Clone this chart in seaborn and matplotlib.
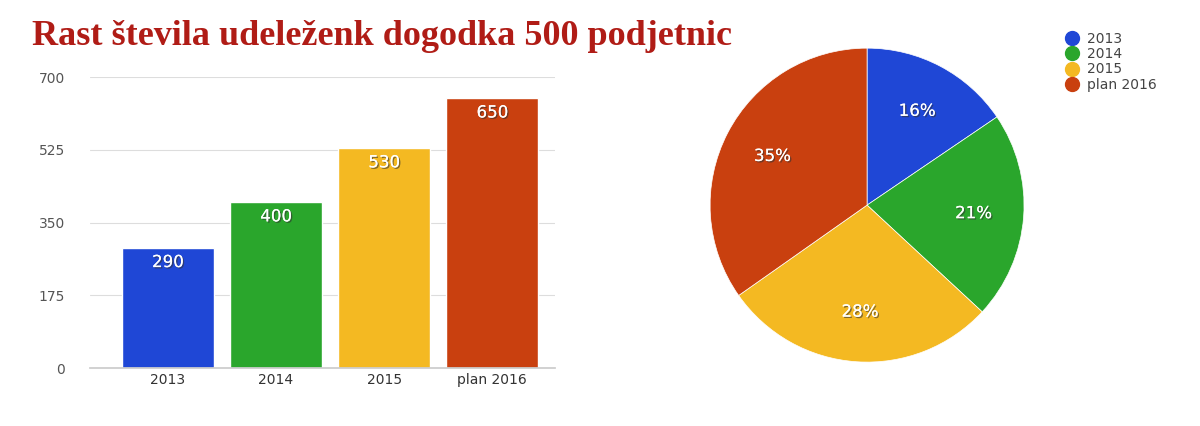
import matplotlib
matplotlib.use("Agg")
import matplotlib.pyplot as plt
import matplotlib.patheffects as pe
from matplotlib.lines import Line2D
import seaborn as sns
import pandas as pd

categories = ["2013", "2014", "2015", "plan 2016"]
values = [290, 400, 530, 650]
colors = ["#1f47d6", "#2aa62c", "#f4b922", "#c9400f"]
yticks = [0, 175, 350, 525, 700]

sns.set_theme(style="white")
plt.rcParams['font.family'] = ['DejaVu Sans']

fig = plt.figure(figsize=(12, 4.26), dpi=100)
fig.patch.set_facecolor("white")

ax = fig.add_axes([0.075, 0.136, 0.3875, 0.683])
df = pd.DataFrame({"cat": categories, "val": values})
sns.barplot(data=df, x="cat", y="val", hue="cat", palette=colors, ax=ax,
            width=0.85, legend=False, saturation=1)
ax.set_ylim(0, 700)
ax.set_xlim(-0.72, 3.58)
ax.set_yticks(yticks)
ax.set_yticklabels([str(t) for t in yticks], color="#555555", fontsize=10)
ax.tick_params(axis="x", colors="#333333", labelsize=10, length=0)
ax.tick_params(axis="y", length=0, pad=18)
ax.grid(axis="y", color="#dddddd", linewidth=0.8)
ax.set_axisbelow(True)
for s in ["top", "right", "left"]:
    ax.spines[s].set_visible(False)
ax.spines["bottom"].set_color("#cccccc")
ax.set_xlabel("")
ax.set_ylabel("")
shadow = [pe.withSimplePatchShadow(offset=(1, -1), shadow_rgbFace="#333333", alpha=0.6), pe.Normal()]
for i, v in enumerate(values):
    ax.text(i, v - 35, str(v), ha="center", va="center", color="white",
            fontsize=12, path_effects=shadow)

fig.text(0.027, 0.915, "Rast števila udeleženk dogodka 500 podjetnic",
         fontsize=26, fontweight="bold", color="#b01c16",
         family=["Liberation Serif"], va="center")

pax = fig.add_axes([0.5917, 0.150, 0.2617, 0.737])
wedges, texts, autotexts = pax.pie(values, colors=colors, startangle=90, counterclock=False,
        autopct=lambda p: f"{p:.0f}%", pctdistance=0.68,
        wedgeprops=dict(edgecolor="white", linewidth=0.5),
        textprops=dict(color="white", fontsize=12))
for t in autotexts:
    t.set_path_effects(shadow)
pax.set_xlim(-1, 1)
pax.set_ylim(-1, 1)
pax.set_aspect("equal")

handles = [Line2D([], [], marker="o", linestyle="", markersize=10,
                  markerfacecolor=c, markeredgecolor=c) for c in colors]
fig.legend(handles, categories, loc="upper left", bbox_to_anchor=(0.878, 0.955),
           frameon=False, fontsize=10, handlelength=0.9,
           labelspacing=0.1, handletextpad=0.6, labelcolor="#444444")

fig.savefig("out.png", dpi=100, facecolor="white")
